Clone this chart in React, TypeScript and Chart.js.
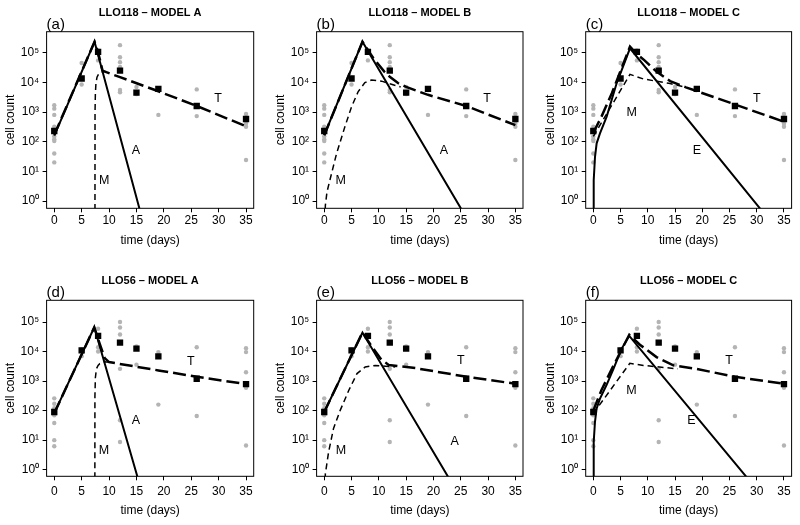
import React, { useEffect, useRef } from "react";
import { Chart, registerables } from "chart.js";
Chart.register(...registerables);

const FONT = "'Liberation Sans', Arial, Helvetica, sans-serif";

// ---------- shared axes ----------
const sampleDays = [0, 5, 8, 12, 15, 19, 26, 35];
const xTicks = [0, 5, 10, 15, 20, 25, 30, 35];
const yTicks = [1, 10, 100, 1000, 10000, 100000];
const yTickLabels = ["10⁰", "10¹", "10²", "10³", "10⁴", "10⁵"];

// ---------- LLO118 data (grey = individual, black = mean) ----------
const llo118Points = [
  [1700, 1300, 800, 320, 250, 150, 120, 105, 40, 20],
  [45000, 14000, 8500],
  [120000, 55000],
  [180000, 70000, 48000, 33000, 5500, 4600],
  [7000, 4000],
  [5500, 800],
  [5800, 730],
  [860, 400, 320, 24],
];
const llo118Means = [230, 13500, 107000, 25000, 4500, 6000, 1600, 580];

// ---------- LLO56 data ----------
const llo56Points = [
  [260, 170, 120, 70, 38, 10, 6.2],
  [12000, 7000],
  [59000, 14000, 10000],
  [100000, 65000, 38000, 2600, 47, 8.7],
  [15000, 3600],
  [9600, 160],
  [14000, 66],
  [13000, 9600, 2000, 680, 590, 6.6],
];
const llo56Means = [90, 11000, 34000, 20000, 12500, 6900, 1200, 790];

// ---------- model curves ----------
// (a) LLO118 model A
const aSolidT = [0, 7.35, 16];
const aSolidV = [160, 234000, 0.27];
const aMT = [7.42, 7.44, 7.5, 7.6, 7.8, 8.1, 8.6, 9.2];
const aMV = [0.001, 1000, 4000, 9000, 15000, 19000, 22000, 23000];
const aTT = [0, 7.35, 8.0, 8.35, 8.8, 9.5, 12, 19, 26, 35];
const aTV = [170, 234000, 100000, 56000, 25000, 22000, 15000, 5000, 1600, 330];
const aLabText = ["A", "M", "T"];
const aLabX = [14.9, 9.1, 29.9];
const aLabY = [49, 4.9, 2900];

// (b) LLO118 model B
const bSolidT = [0, 7.0, 26];
const bSolidV = [165, 234000, 0.28];
const bMT = [0.1, 0.2, 0.5, 1.04, 2.26, 3.78, 5.0, 6.22, 7.44, 8.66, 10.5, 12, 14];
const bMV = [0.05, 0.7, 2.0, 5.1, 40, 320, 1500, 4900, 9800, 12000, 11000, 9000, 7000];
const bTT = [0, 7.0, 9.0, 11.0, 12, 13.5, 15, 19, 26, 35];
const bTV = [165, 234000, 65000, 23000, 15500, 9500, 7000, 3800, 1600, 360];
const bLabText = ["A", "M", "T"];
const bLabX = [21.9, 3.0, 29.8];
const bLabY = [49, 4.9, 2900];

// (c) LLO118 model C
const cSolidT = [0, 0.02, 0.12, 0.31, 0.61, 1.22, 2.45, 4.28, 6.73, 31.5];
const cSolidV = [0.001, 0.5, 5, 31, 88, 190, 700, 9300, 141000, 0.35];
const cMT = [0, 6.73, 9.2, 14.1, 17];
const cMV = [150, 18600, 13000, 9100, 6800];
const cTT = [0, 1.5, 3.4, 6.73, 8.0, 9.4, 11.6, 14.1, 17, 26, 35];
const cTV = [200, 700, 4300, 160000, 90000, 55000, 23000, 11000, 6800, 1800, 470];
const cLabText = ["M", "E", "T"];
const cLabX = [7.04, 19.0, 30.0];
const cLabY = [950, 49, 2900];

// (d) LLO56 model A
const dSolidT = [0, 7.3, 15.6];
const dSolidV = [82, 66000, 0.31];
const dMT = [7.4, 7.42, 7.5, 7.7, 8.0, 8.3, 9.25, 10];
const dMV = [0.001, 300, 1300, 2600, 3400, 3900, 4500, 4300];
const dTT = [0, 7.3, 8.3, 9.2, 10, 19, 26, 35];
const dTV = [82, 66000, 18000, 6000, 4400, 2300, 1400, 790];
const dLabText = ["A", "M", "T"];
const dLabX = [14.9, 9.07, 24.9];
const dLabY = [47, 4.5, 4700];

// (e) LLO56 model B
const eSolidT = [0, 7.0, 23.5];
const eSolidV = [90, 44000, 0.32];
const eMT = [0.1, 0.2, 0.8, 1.7, 2.9, 4.5, 6.0, 7.5, 9.35, 11.2, 13];
const eMV = [0.1, 0.72, 4, 25, 100, 490, 1800, 3000, 3400, 3200, 3000];
const eTT = [0, 7.0, 8.7, 10.3, 11.8, 16.7, 26.1, 35];
const eTV = [90, 44000, 15000, 5800, 3500, 2750, 1400, 815];
const eLabText = ["M", "A", "T"];
const eLabX = [3.05, 23.9, 25.0];
const eLabY = [4.5, 9.1, 5000];

// (f) LLO56 model C
const fSolidT = [0, 0.02, 0.12, 0.3, 0.6, 1.2, 2.4, 3.7, 5.2, 6.6, 28.8];
const fSolidV = [0.001, 0.5, 8.7, 41, 117, 250, 720, 2600, 12600, 34000, 0.4];
const fMT = [0, 6.7, 9.2, 15.5];
const fMV = [80, 4000, 3400, 2600];
const fTT = [0, 1.5, 3.4, 6.6, 8.55, 11.6, 14.7, 18.9, 26, 35];
const fTV = [100, 500, 2600, 37000, 17000, 6500, 3400, 2600, 1400, 815];
const fLabText = ["M", "E", "T"];
const fLabX = [7.0, 18.0, 24.9];
const fLabY = [490, 47, 5000];

// ---------- layout (page pixels) ----------
const colX0 = [46.6, 316.6, 585.7];
const colX1 = [253.7, 523.0, 791.6];
const rowY0 = [31.7, 300.3];
const rowY1 = [208.3, 476.3];
const rowLogMin = [-0.246, -0.223];
const rowLogMax = [5.708, 5.735];
const rowTitleY = [13, 281];
const rowXTitleY = [240.7, 510.3];
const rowXTickPad = [0.8, 4.5];

const panels = [
  { title: "LLO118 – MODEL A", tag: "(a)", col: 0, row: 0, pts: llo118Points, means: llo118Means,
    solid: [aSolidT, aSolidV], m: [aMT, aMV], t: [aTT, aTV], lab: [aLabText, aLabX, aLabY] },
  { title: "LLO118 – MODEL B", tag: "(b)", col: 1, row: 0, pts: llo118Points, means: llo118Means,
    solid: [bSolidT, bSolidV], m: [bMT, bMV], t: [bTT, bTV], lab: [bLabText, bLabX, bLabY] },
  { title: "LLO118 – MODEL C", tag: "(c)", col: 2, row: 0, pts: llo118Points, means: llo118Means,
    solid: [cSolidT, cSolidV], m: [cMT, cMV], t: [cTT, cTV], lab: [cLabText, cLabX, cLabY] },
  { title: "LLO56 – MODEL A", tag: "(d)", col: 0, row: 1, pts: llo56Points, means: llo56Means,
    solid: [dSolidT, dSolidV], m: [dMT, dMV], t: [dTT, dTV], lab: [dLabText, dLabX, dLabY] },
  { title: "LLO56 – MODEL B", tag: "(e)", col: 1, row: 1, pts: llo56Points, means: llo56Means,
    solid: [eSolidT, eSolidV], m: [eMT, eMV], t: [eTT, eTV], lab: [eLabText, eLabX, eLabY] },
  { title: "LLO56 – MODEL C", tag: "(f)", col: 2, row: 1, pts: llo56Points, means: llo56Means,
    solid: [fSolidT, fSolidV], m: [fMT, fMV], t: [fTT, fTV], lab: [fLabText, fLabX, fLabY] },
];

const YW = 40;
const XH = 40;

function Panel({ cfg }: { cfg: any }) {
  const ref = useRef<HTMLCanvasElement>(null);
  useEffect(() => {
    const canvas = ref.current!;
    const x0 = colX0[cfg.col], x1 = colX1[cfg.col];
    const y0 = rowY0[cfg.row], y1 = rowY1[cfg.row];
    const dots: { x: number; y: number }[] = [];
    sampleDays.forEach((d, i) => cfg.pts[i].forEach((v: number) => dots.push({ x: d, y: v })));
    const means = sampleDays.map((d, i) => ({ x: d, y: cfg.means[i] }));
    const line = (arr: number[][]) => arr[0].map((x, i) => ({ x, y: arr[1][i] }));

    const decor = {
      id: "decor",
      afterDraw(chart: any) {
        const ctx = chart.ctx;
        const ca = chart.chartArea;
        const xs = chart.scales.x, ys = chart.scales.y;
        ctx.save();
        ctx.strokeStyle = "#000";
        ctx.lineWidth = 1;
        ctx.strokeRect(ca.left, ca.top, ca.right - ca.left, ca.bottom - ca.top);
        ctx.fillStyle = "#000";
        const cx = (ca.left + ca.right) / 2;
        ctx.textAlign = "center";
        ctx.textBaseline = "middle";
        ctx.font = `bold 11px ${FONT}`;
        ctx.fillText(cfg.title, cx, rowTitleY[cfg.row]);
        ctx.font = `12px ${FONT}`;
        ctx.fillText("time (days)", cx, rowXTitleY[cfg.row]);
        ctx.save();
        ctx.translate(ca.left - 35.5, (ca.top + ca.bottom) / 2);
        ctx.rotate(-Math.PI / 2);
        ctx.fillText("cell count", 0, 0);
        ctx.restore();
        ctx.textAlign = "left";
        ctx.textBaseline = "alphabetic";
        ctx.font = `15px ${FONT}`;
        ctx.fillText(cfg.tag, ca.left, ca.top - 3);
        ctx.textAlign = "center";
        ctx.textBaseline = "middle";
        ctx.font = `12.5px ${FONT}`;
        const [tx, lx, ly] = cfg.lab;
        tx.forEach((t: string, i: number) => {
          ctx.fillText(t, xs.getPixelForValue(lx[i]), ys.getPixelForValue(ly[i]));
        });
        ctx.restore();
      },
    };

    const gridOpts = { display: true, drawOnChartArea: false, drawTicks: true, tickLength: 4, color: "#000", lineWidth: 1 };
    const chart = new Chart(canvas, {
      type: "scatter",
      data: {
        datasets: [
          { data: line(cfg.solid), showLine: true, borderColor: "#000", borderWidth: 2, pointRadius: 0, order: 1 } as any,
          { data: line(cfg.t), showLine: true, borderColor: "#000", borderWidth: 2.5, borderDash: [13, 5], pointRadius: 0, order: 2 },
          { data: line(cfg.m), showLine: true, borderColor: "#000", borderWidth: 1.5, borderDash: [6, 4], pointRadius: 0, order: 3 },
          { data: means, pointStyle: "rect", pointRadius: 4.5, backgroundColor: "#000", borderWidth: 0, order: 4 },
          { data: dots, pointStyle: "circle", pointRadius: 2.2, backgroundColor: "#b4b4b4", borderWidth: 0, order: 5 },
        ],
      },
      options: {
        responsive: false,
        animation: false,
        events: [],
        devicePixelRatio: 1,
        layout: { padding: { left: x0 - YW, right: 800 - x1, top: y0, bottom: 525 - y1 - XH } },
        plugins: { legend: { display: false }, tooltip: { enabled: false }, title: { display: false } },
        scales: {
          x: {
            type: "linear", position: "bottom", min: -1.4, max: 36.4,
            afterBuildTicks: (s: any) => { s.ticks = xTicks.map((v) => ({ value: v })); },
            afterFit: (s: any) => { s.height = XH; },
            ticks: { color: "#000", font: { size: 12, family: FONT }, padding: rowXTickPad[cfg.row], maxRotation: 0, autoSkip: false },
            grid: gridOpts, border: { display: false },
          },
          y: {
            type: "logarithmic", position: "left", min: Math.pow(10, rowLogMin[cfg.row]), max: Math.pow(10, rowLogMax[cfg.row]),
            afterBuildTicks: (s: any) => { s.ticks = yTicks.map((v) => ({ value: v })); },
            afterFit: (s: any) => { s.width = YW; },
            ticks: { color: "#000", font: { size: 12, family: FONT }, padding: 3.5, autoSkip: false,
              callback: (_v: any, i: number) => yTickLabels[i] },
            grid: gridOpts, border: { display: false },
          },
        },
      } as any,
      plugins: [decor],
    });
    return () => chart.destroy();
  }, []);
  return <canvas ref={ref} width={800} height={525} style={{ position: "absolute", left: 0, top: 0 }} />;
}

export default function App() {
  return (
    <div style={{ position: "fixed", left: 0, top: 0, width: 800, height: 525, background: "#fff" }}>
      {panels.map((p, i) => <Panel key={i} cfg={p} />)}
    </div>
  );
}
